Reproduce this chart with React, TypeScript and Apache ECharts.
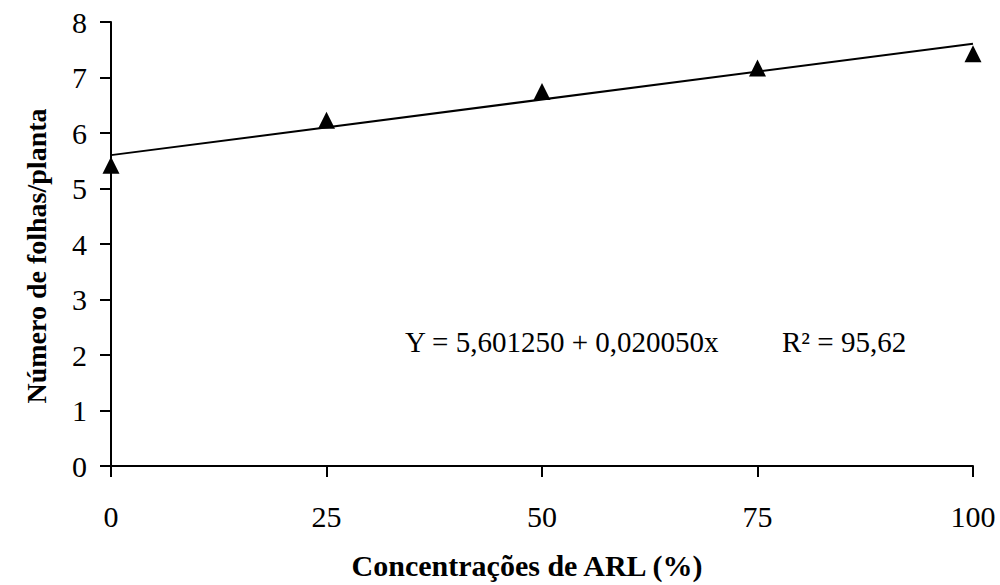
import React, { useEffect, useRef } from "react";
import * as echarts from "echarts";

const concentrations = [0, 25, 50, 75, 100];
const leaves = [5.42, 6.23, 6.75, 7.17, 7.43];
const trendX = [0, 100];
const trendY = [5.60125, 7.60625];
const xTicks = [0, 25, 50, 75, 100];
const equationText = "Y = 5,601250 + 0,020050x";
const r2Text = "R² = 95,62";
const xTitle = "Concentrações de ARL (%)";
const yTitle = "Número de folhas/planta";

const FONT = "'Liberation Serif', 'Times New Roman', serif";

export default function App() {
  const ref = useRef<HTMLDivElement>(null);
  useEffect(() => {
    if (!ref.current) return;
    const chart = echarts.init(ref.current, undefined, { renderer: "svg" });
    chart.setOption({
      animation: false,
      backgroundColor: "#ffffff",
      grid: { left: 111, right: 27, top: 22, bottom: 119 },
      xAxis: {
        type: "value",
        min: 0,
        max: 100,
        interval: 25,
        axisLine: { show: true, lineStyle: { color: "#000", width: 2 } },
        axisTick: { show: true, length: 11, inside: false, lineStyle: { color: "#000", width: 2 } },
        axisLabel: {
          margin: 35,
          fontFamily: FONT,
          fontSize: 30,
          color: "#000",
          customValues: xTicks,
        },
        splitLine: { show: false },
      },
      yAxis: {
        type: "value",
        min: 0,
        max: 8,
        interval: 1,
        axisLine: { show: true, lineStyle: { color: "#000", width: 2 } },
        axisTick: { show: true, length: 11, inside: false, lineStyle: { color: "#000", width: 2 } },
        axisLabel: { margin: 24, fontFamily: FONT, fontSize: 30, color: "#000" },
        splitLine: { show: false },
      },
      series: [
        {
          type: "line",
          data: trendX.map((x, i) => [x, trendY[i]]),
          showSymbol: false,
          symbol: "none",
          lineStyle: { color: "#000", width: 2 },
          z: 2,
        },
        {
          type: "scatter",
          data: concentrations.map((x, i) => [x, leaves[i]]),
          symbol: "triangle",
          symbolSize: [17, 17],
          itemStyle: { color: "#000", opacity: 1 },
          z: 3,
        },
      ],
      graphic: [
        {
          type: "text",
          left: 405,
          top: 327,
          style: { text: equationText, font: `29px ${FONT}`, fill: "#000" },
        },
        {
          type: "text",
          left: 782,
          top: 327,
          style: { text: r2Text, font: `29px ${FONT}`, fill: "#000" },
        },
        {
          type: "text",
          x: 527,
          y: 565,
          style: {
            text: xTitle,
            font: `bold 30px ${FONT}`,
            fill: "#000",
            align: "center",
            verticalAlign: "middle",
          },
        },
        {
          type: "text",
          x: 36,
          y: 256,
          rotation: Math.PI / 2,
          style: {
            text: yTitle,
            font: `bold 28px ${FONT}`,
            fill: "#000",
            align: "center",
            verticalAlign: "middle",
          },
        },
      ],
    });
    return () => chart.dispose();
  }, []);
  return (
    <div
      ref={ref}
      style={{ position: "fixed", left: 0, top: 0, width: 1000, height: 585, background: "#fff" }}
    />
  );
}
